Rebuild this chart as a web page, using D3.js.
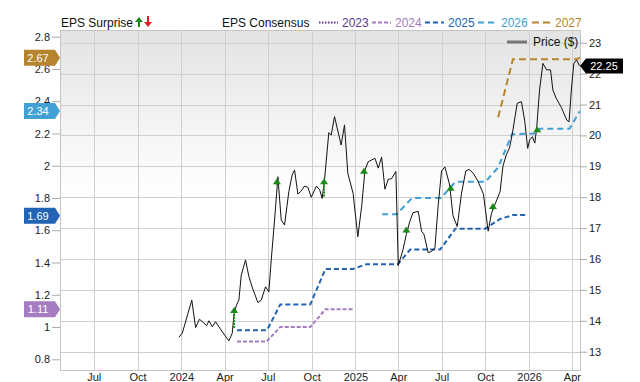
<!DOCTYPE html>
<html>
<head>
<meta charset="utf-8">
<script src="https://cdn.jsdelivr.net/npm/d3@7"></script>
<style>
  body { margin: 0; background: #fff; }
  svg { font-family: "Liberation Sans", Arial, sans-serif; }
</style>
</head>
<body>
<div id="chart"></div>
<script>
// price history
var priceDates = ["2023-12-27","2024-01-03","2024-01-13","2024-01-23","2024-01-31","2024-02-08","2024-02-17","2024-02-23","2024-02-28","2024-03-06","2024-03-13","2024-03-22","2024-04-01","2024-04-10","2024-04-17","2024-04-21","2024-04-26","2024-05-01","2024-05-06","2024-05-15","2024-05-22","2024-05-31","2024-06-10","2024-06-17","2024-06-26","2024-07-03","2024-07-08","2024-07-15","2024-07-22","2024-07-29","2024-08-05","2024-08-14","2024-08-21","2024-08-26","2024-09-02","2024-09-09","2024-09-16","2024-09-23","2024-09-30","2024-10-11","2024-10-18","2024-10-23","2024-10-28","2024-11-06","2024-11-11","2024-11-18","2024-12-02","2024-12-09","2024-12-16","2024-12-27","2025-01-06","2025-01-14","2025-01-21","2025-01-28","2025-02-11","2025-02-18","2025-02-25","2025-03-04","2025-03-11","2025-03-18","2025-03-27","2025-04-01","2025-04-11","2025-04-18","2025-04-25","2025-05-02","2025-05-13","2025-05-20","2025-05-25","2025-06-03","2025-06-10","2025-06-17","2025-06-24","2025-07-01","2025-07-08","2025-07-18","2025-07-25","2025-08-03","2025-08-12","2025-08-21","2025-08-28","2025-09-06","2025-09-16","2025-09-27","2025-10-04","2025-10-07","2025-10-14","2025-10-25","2025-11-01","2025-11-07","2025-11-14","2025-11-21","2025-11-28","2025-12-07","2025-12-16","2025-12-23","2025-12-29","2026-01-02","2026-01-08","2026-01-13","2026-01-17","2026-01-23","2026-01-30","2026-02-07","2026-02-15","2026-02-20","2026-02-27","2026-03-10","2026-03-21","2026-03-26","2026-03-31","2026-04-05","2026-04-11","2026-04-17"];
var priceValues = [13.47,13.6,14.13,14.67,13.78,14.05,13.94,13.84,14.0,13.81,13.97,13.76,13.54,13.35,13.6,14.24,14.51,14.67,15.48,15.97,15.43,15.0,14.59,14.67,15.1,14.94,15.97,17.26,18.66,17.26,17.1,18.18,18.72,18.88,18.1,18.2,18.36,18.32,18.0,18.36,18.23,17.96,18.56,20.09,20.01,20.61,19.69,20.34,18.77,18.13,16.72,17.69,18.88,19.15,19.26,18.94,19.3,18.26,18.58,18.6,18.83,15.79,16.3,16.8,17.2,17.5,17.54,16.9,16.8,16.2,16.25,16.35,17.75,18.85,18.98,18.4,17.4,17.05,18.13,18.85,18.9,18.77,18.5,18.1,17.26,16.9,17.48,17.91,18.18,19.0,19.37,19.6,20.17,21.04,21.09,20.45,19.58,19.85,19.96,19.75,20.25,21.47,22.33,22.12,22.12,21.47,21.2,20.9,20.5,20.44,21.5,22.33,22.44,22.25];

// EPS consensus by fiscal year
var years = ["2023","2024","2025","2026","2027"];
var yearColors = ["#5b3a8e","#a57cc0","#2363b3","#42a1d4","#b5842f"];
var yearDash = ["1.5,1.5","4,2","5,3","6,4","7,4"];
var cons2023Dates = [];
var cons2023Values = [];
var cons2024Dates = ["2024-04-27","2024-06-28","2024-07-27","2024-09-28","2024-10-30","2024-12-27"];
var cons2024Values = [0.91,0.91,1.0,1.0,1.11,1.11];
var cons2025Dates = ["2024-04-27","2024-06-29","2024-07-27","2024-09-28","2024-10-30","2024-12-27","2025-01-24","2025-03-31","2025-04-26","2025-06-28","2025-07-30","2025-10-01","2025-11-01","2025-11-29","2025-12-27"];
var cons2025Values = [0.98,0.98,1.14,1.14,1.36,1.36,1.39,1.39,1.48,1.48,1.61,1.61,1.67,1.695,1.695];
var cons2026Dates = ["2025-02-26","2025-03-29","2025-04-30","2025-06-30","2025-07-30","2025-10-01","2025-10-28","2025-11-26","2026-01-13","2026-01-23","2026-03-27","2026-04-18"];
var cons2026Values = [1.7,1.7,1.8,1.8,1.9,1.9,1.99,2.195,2.2,2.23,2.23,2.34];
var cons2027Dates = ["2025-10-28","2025-11-28","2026-04-10","2026-04-18"];
var cons2027Values = [2.3,2.66,2.66,2.67];
var badgeYears = ["2024","2025","2026","2027"];
var badgeValues = [1.11,1.69,2.34,2.67];
var lastPrice = 22.25;

// EPS surprise arrows, drawn on the price scale
var surpriseDates = ["2024-04-21","2024-07-20","2024-10-27","2025-01-19","2025-04-18","2025-07-20","2025-10-17","2026-01-18"];
var surpriseFrom = [13.77,18.4,18.02,18.78,16.84,18.2,17.59,20.12];
var surpriseTo = [14.45,18.61,18.61,18.95,17.05,18.4,17.81,20.3];

var epsTicks = [0.8,1,1.2,1.4,1.6,1.8,2,2.2,2.4,2.6,2.8];
var priceTicks = [13,14,15,16,17,18,19,20,21,22,23];

var svgWidth = 640, svgHeight = 382;
var plot = {left: 60, right: 580, top: 30, bottom: 370};
var parse = d3.timeParse("%Y-%m-%d");

var svg = d3.select("#chart").append("svg")
  .attr("width", svgWidth)
  .attr("height", svgHeight);

var x = d3.scaleTime()
  .domain([parse("2023-04-21"), parse("2026-04-18")])
  .range([plot.left, plot.right]);
var yEps = d3.scaleLinear().domain([0.8, 2.8]).range([359.3, 36.7]);
var yPrice = d3.scaleLinear().domain([13, 23]).range([351.7, 42.7]);

// background gradient
var grad = svg.append("defs").append("linearGradient")
  .attr("id", "bg").attr("x1", 0).attr("y1", 0).attr("x2", 0).attr("y2", 1);
grad.append("stop").attr("offset", "0%").attr("stop-color", "#e3e3e3");
grad.append("stop").attr("offset", "48%").attr("stop-color", "#ffffff");
svg.select("defs").append("clipPath").attr("id", "clip")
  .append("rect").attr("x", plot.left).attr("y", plot.top)
  .attr("width", plot.right - plot.left).attr("height", plot.bottom - plot.top);

svg.append("rect")
  .attr("x", plot.left).attr("y", plot.top)
  .attr("width", plot.right - plot.left).attr("height", plot.bottom - plot.top)
  .attr("fill", "url(#bg)");

// gridlines
var xTicks = x.ticks(d3.timeMonth.every(3));
svg.append("g").selectAll("line").data(xTicks).enter().append("line")
  .attr("x1", d => Math.round(x(d)) + 0.5).attr("x2", d => Math.round(x(d)) + 0.5)
  .attr("y1", plot.top).attr("y2", plot.bottom)
  .attr("stroke", "#cfcfcf");
svg.append("g").selectAll("line").data(priceTicks).enter().append("line")
  .attr("x1", plot.left).attr("x2", plot.right)
  .attr("y1", d => Math.round(yPrice(d)) + 0.5).attr("y2", d => Math.round(yPrice(d)) + 0.5)
  .attr("stroke", "#cfcfcf");

svg.append("rect")
  .attr("x", plot.left + 0.5).attr("y", plot.top + 0.5)
  .attr("width", plot.right - plot.left).attr("height", plot.bottom - plot.top)
  .attr("fill", "none").attr("stroke", "#c4c4c4");

// axes
var fmtMonth = function(d) {
  return d.getMonth() === 0 ? d3.timeFormat("%Y")(d) : d3.timeFormat("%b")(d);
};
var xAxis = svg.append("g")
  .attr("transform", `translate(0, ${plot.bottom})`)
  .call(d3.axisBottom(x).tickValues(xTicks).tickFormat(fmtMonth).tickSize(0).tickPadding(3));
var leftAxis = svg.append("g")
  .attr("transform", `translate(${plot.left}, 0)`)
  .call(d3.axisLeft(yEps).tickValues(epsTicks).tickFormat(d => String(+d.toFixed(1))).tickSize(8).tickPadding(2));
var rightAxis = svg.append("g")
  .attr("transform", `translate(${plot.right}, 0)`)
  .call(d3.axisRight(yPrice).tickValues(priceTicks).tickSize(7).tickPadding(2));
[xAxis, leftAxis, rightAxis].forEach(function(a) {
  a.select(".domain").remove();
  a.selectAll(".tick line").attr("stroke", "#aaa");
  a.selectAll("text").attr("font-size", 11).attr("fill", "#222")
    .attr("font-family", "'Liberation Sans', Arial, sans-serif");
});

var chart = svg.append("g").attr("clip-path", "url(#clip)");

// consensus lines
var consDates = [cons2023Dates, cons2024Dates, cons2025Dates, cons2026Dates, cons2027Dates];
var consValues = [cons2023Values, cons2024Values, cons2025Values, cons2026Values, cons2027Values];
var epsLine = d3.line().x(d => x(d[0])).y(d => yEps(d[1]));
years.forEach(function(yr, i) {
  if (!consDates[i].length) return;
  var pts = consDates[i].map((d, j) => [parse(d), consValues[i][j]]);
  chart.append("path")
    .datum(pts)
    .attr("d", epsLine)
    .attr("fill", "none")
    .attr("stroke", yearColors[i])
    .attr("stroke-width", 2)
    .attr("stroke-dasharray", yearDash[i]);
});

// price line
var priceLine = d3.line().x(d => x(d[0])).y(d => yPrice(d[1]));
chart.append("path")
  .datum(priceDates.map((d, i) => [parse(d), priceValues[i]]))
  .attr("d", priceLine)
  .attr("fill", "none")
  .attr("stroke", "#111")
  .attr("stroke-width", 1);

// surprise arrows
surpriseDates.forEach(function(d, i) {
  var cx = x(parse(d));
  var yb = yPrice(surpriseFrom[i]), yt = yPrice(surpriseTo[i]);
  chart.append("line")
    .attr("x1", cx).attr("x2", cx).attr("y1", yb).attr("y2", yt + 4)
    .attr("stroke", "#1b8a1b").attr("stroke-width", 2).attr("stroke-dasharray", "2,1");
  chart.append("path")
    .attr("d", `M${cx - 4},${yt + 6}L${cx},${yt}L${cx + 4},${yt + 6}Z`)
    .attr("fill", "#1b8a1b");
});

// left badges
badgeValues.forEach(function(v, i) {
  var cy = yEps(v);
  var col = yearColors[years.indexOf(badgeYears[i])];
  svg.append("path")
    .attr("d", `M24,${cy - 8}H55L60,${cy}L55,${cy + 8}H24Z`)
    .attr("fill", col);
  svg.append("text")
    .attr("x", 38).attr("y", cy + 4)
    .attr("text-anchor", "middle")
    .attr("font-size", 11).attr("fill", "#fff")
    .text(v.toFixed(2));
});

// right badge for last price
var py = yPrice(lastPrice);
svg.append("path")
  .attr("d", `M580,${py}L586,${py - 7.5}H623V${py + 7.5}H586Z`)
  .attr("fill", "#000");
svg.append("text")
  .attr("x", 604).attr("y", py + 4)
  .attr("text-anchor", "middle")
  .attr("font-size", 11).attr("fill", "#fff")
  .text(lastPrice.toFixed(2));

// legend
var legend = svg.append("g").attr("font-size", 12);
legend.append("text").attr("x", 61).attr("y", 27).attr("fill", "#111").text("EPS Surprise");
legend.append("path").attr("d", "M135,22L139,17L143,22Z").attr("fill", "#1b8a1b");
legend.append("line").attr("x1", 139).attr("x2", 139).attr("y1", 21).attr("y2", 27)
  .attr("stroke", "#1b8a1b").attr("stroke-width", 2);
legend.append("path").attr("d", "M144,22L148,27L152,22Z").attr("fill", "#e02020");
legend.append("line").attr("x1", 148).attr("x2", 148).attr("y1", 16).attr("y2", 23)
  .attr("stroke", "#e02020").attr("stroke-width", 2);

legend.append("text").attr("x", 222).attr("y", 27).attr("fill", "#111").text("EPS Consensus");
var legX = [319, 372, 425, 478, 532];
years.forEach(function(yr, i) {
  legend.append("line")
    .attr("x1", legX[i]).attr("x2", legX[i] + 19)
    .attr("y1", 22.5).attr("y2", 22.5)
    .attr("stroke", yearColors[i]).attr("stroke-width", 2)
    .attr("stroke-dasharray", yearDash[i]);
  legend.append("text")
    .attr("x", legX[i] + 23).attr("y", 27)
    .attr("fill", yearColors[i])
    .text(yr);
});

legend.append("line").attr("x1", 507).attr("x2", 527).attr("y1", 42).attr("y2", 42)
  .attr("stroke", "#777").attr("stroke-width", 3);
legend.append("text").attr("x", 533).attr("y", 46).attr("fill", "#111").text("Price ($)");
</script>
</body>
</html>
